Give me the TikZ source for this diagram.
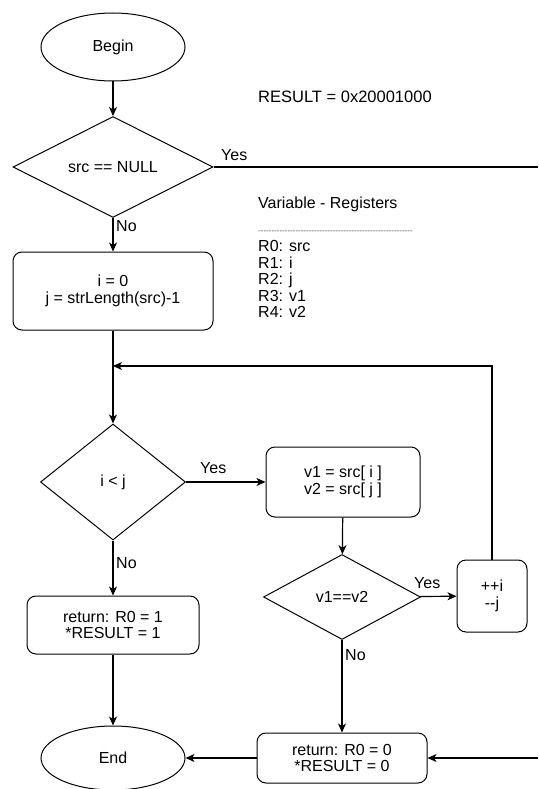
\documentclass[tikz,border=0pt]{standalone}
\usepackage{fontspec}
\setmainfont{Liberation Sans}
\usetikzlibrary{shapes.geometric,arrows.meta}
\begin{document}
\begin{tikzpicture}[x=1pt,y=-1pt,
  every node/.style={font=\fontsize{16}{16.5}\selectfont},
  line/.style={line width=1.2pt},
  arr/.style={line width=1.2pt,-{Stealth[length=9pt,width=8pt,inset=2.5pt]}},
  ell/.style={draw,ellipse,line width=1pt,inner sep=0pt},
  dia/.style={draw,diamond,line width=1pt,inner sep=0pt,align=center},
  rbox/.style={draw,rounded corners=9pt,line width=1pt,align=center,inner sep=0pt},
  lbl/.style={inner sep=0pt}
]
\useasboundingbox (0,0) rectangle (538,789);
\fill[white] (0,0) rectangle (538,789);

\node[ell,minimum width=144pt,minimum height=68pt] (begin) at (113,47) {Begin};
\node[dia,minimum width=200pt,minimum height=90pt] (d1) at (113,167) {src == NULL};
\node[rbox,minimum width=200pt,minimum height=78pt] (init) at (113,291) {i = 0\\j = strLength(src)-1};
\node[dia,minimum width=145pt,minimum height=116pt] (d2) at (113,482) {i \textless{} j};
\node[rbox,minimum width=154pt,minimum height=70pt] (vbox) at (343,482) {v1 = src[ i ]\\v2 = src[ j ]};
\node[dia,minimum width=157pt,minimum height=85pt] (d3) at (342,597) {v1==v2};
\node[rbox,minimum width=70pt,minimum height=72pt] (inc) at (492,596) {++i\\-{}-j};
\node[rbox,minimum width=172pt,minimum height=58pt] (ret1) at (113,625) {return: R0 = 1\\*RESULT = 1};
\node[rbox,minimum width=170pt,minimum height=50pt] (ret0) at (342,758) {return: R0 = 0\\*RESULT = 0};
\node[ell,minimum width=144pt,minimum height=64pt] (end) at (113,758) {End};

\node[lbl,anchor=west,font=\fontsize{16.5}{17}\selectfont] (res) at (258,97) {RESULT = 0x20001000};
\node[lbl,anchor=north west,align=left] (regs) at (258,197) {Variable - Registers\\[8pt]
\textcolor{black!70}{\fontsize{8}{8}\selectfont -{}-{}-{}-{}-{}-{}-{}-{}-{}-{}-{}-{}-{}-{}-{}-{}-{}-{}-{}-{}-{}-{}-{}-{}-{}-{}-{}-{}-{}-{}-{}-{}-{}-{}-{}-{}-{}-{}-{}-{}-{}-{}-{}-{}-{}-{}-{}-{}-{}-{}-{}-{}-{}-{}-{}-{}-{}-}\\[2pt]
R0: src\\R1: i\\R2: j\\R3: v1\\R4: v2};

\coordinate (yesend) at (538,167);
\coordinate (loop) at (113,366);
\coordinate (rin) at (538,758);

\draw[arr] (begin) -- (d1);
\draw[line] (d1.east) -- (yesend);
\node[lbl,anchor=base west] (yes1) at (221,160) {Yes};
\draw[arr] (d1) -- (init);
\node[lbl,anchor=base west] (no1) at (116,231) {No};
\draw[arr] (init) -- (d2);
\draw[arr] (inc.north) |- (loop);
\draw[arr] (d2) -- (vbox);
\node[lbl,anchor=base west] (yes2) at (200,473) {Yes};
\draw[arr] (vbox) -- (d3);
\draw[arr] (d3) -- (inc);
\node[lbl,anchor=base west] (yes3) at (414,588) {Yes};
\draw[arr] (d3) -- (ret0);
\node[lbl,anchor=base west] (no3) at (345,660) {No};
\draw[arr] (d2) -- (ret1);
\node[lbl,anchor=base west] (no2) at (116,568) {No};
\draw[arr] (ret1) -- (end);
\draw[arr] (ret0) -- (end);
\draw[arr] (rin) -- (ret0);
\end{tikzpicture}
\end{document}
